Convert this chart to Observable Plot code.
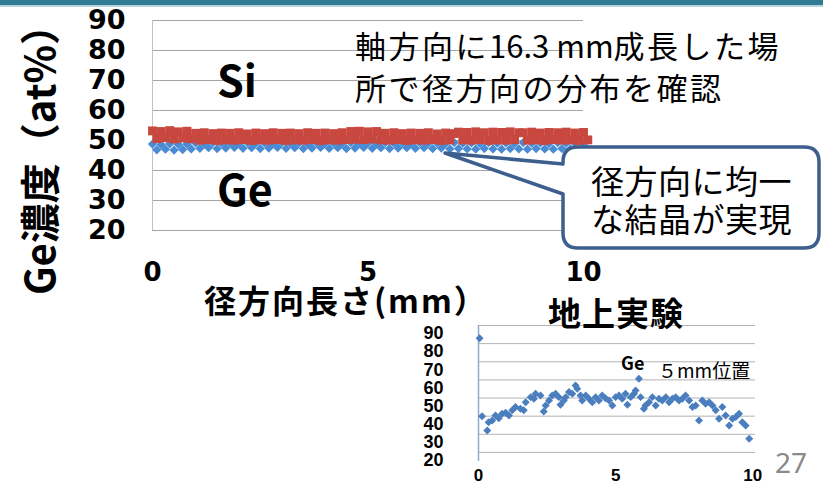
<!DOCTYPE html>
<html><head><meta charset="utf-8">
<script src="https://cdn.jsdelivr.net/npm/d3@7"></script>
<script src="https://cdn.jsdelivr.net/npm/@observablehq/plot@0.6"></script>
<style>
html,body{margin:0;padding:0;background:#fff;}
#root{position:relative;width:823px;height:486px;overflow:hidden;background:#fff;}
#root svg{position:absolute;left:0;top:0;}
.bar{position:absolute;left:0;top:0;width:823px;height:5px;background:#2f7b93;border-bottom:2px solid #b5d3dc;}
</style></head><body><div id="root"><div class="bar"></div></div>
<script>
// ---- main chart data (radial distribution, 16.3 mm axial position) ----
const radialPos = [0,0.1,0.2,0.3,0.4,0.5,0.6,0.7,0.8,0.9,1.0,1.1,1.2,1.3,1.4,1.5,1.6,1.7,1.8,1.9,2.0,2.1,2.2,2.3,2.4,2.5,2.6,2.7,2.8,2.9,3.0,3.1,3.2,3.3,3.4,3.5,3.6,3.7,3.8,3.9,4.0,4.1,4.2,4.3,4.4,4.5,4.6,4.7,4.8,4.9,5.0,5.1,5.2,5.3,5.4,5.5,5.6,5.7,5.8,5.9,6.0,6.1,6.2,6.3,6.4,6.5,6.6,6.7,6.8,6.9,7.0,7.1,7.2,7.3,7.4,7.5,7.6,7.7,7.8,7.9,8.0,8.1,8.2,8.3,8.4,8.5,8.6,8.7,8.8,8.9,9.0,9.1,9.2,9.3,9.4,9.5,9.6,9.7,9.8,9.9,10.0,10.1];
const siConc = [53.2,50.6,53.0,50.9,53.3,50.5,52.9,50.8,53.1,50.6,
52.4,50.1,52.6,50.3,52.3,50.0,52.5,50.2,52.4,50.1,52.6,50.3,52.2,50.0,52.5,50.2,52.3,50.1,52.6,50.3,52.4,50.0,52.5,50.2,52.3,50.1,52.6,50.3,52.4,50.0,52.5,50.2,52.3,50.1,52.6,50.3,
53.0,50.4,53.1,50.3,52.9,50.5,53.0,50.2,
52.4,50.1,52.6,50.3,52.3,50.0,52.5,50.2,52.4,50.1,52.6,50.3,52.2,50.0,52.5,50.2,52.3,
52.8,50.2,52.7,50.1,52.9,50.3,52.6,50.0,52.8,50.2,52.7,50.1,52.9,50.3,52.6,
52.6,50.1,52.8,50.2,52.5,50.0,52.7,50.3,52.6,50.1,52.8,50.2,52.5,50.0,52.7,50.2];
const geConc = [48.8,46.9,48.6,47.1,48.9,46.8,48.7,47.0,48.8,47.2,
49.2,47.4,49.0,47.6,49.3,47.3,49.1,47.5,49.2,47.7,
49.0,47.4,49.3,47.6,49.1,47.3,49.2,47.5,49.0,47.7,
49.3,47.4,49.1,47.6,49.2,47.3,49.0,47.5,49.3,47.7,
49.1,47.4,49.2,47.6,49.0,47.3,49.3,47.5,49.1,47.7,
49.2,47.4,49.0,47.6,49.3,47.3,49.1,47.5,49.2,47.6,
49.0,47.4,49.3,47.6,49.1,47.3,49.2,47.5,49.0,47.2,
49.3,47.3,49.1,47.2,49.2,47.1,49.0,47.3,49.3,47.2,
49.1,47.1,49.2,47.3,49.0,47.2,49.3,47.1,49.1,47.3,
49.2,47.2,49.0,47.1,49.3,47.3,49.1,47.2,49.2,47.1,
49.0,47.2];
const mainYTicks = [20,30,40,50,60,70,80,90];
const mainXTicks = [0,5,10];

// ---- inset chart data (ground experiment, 5 mm position) ----
const groundPos = [0.04,0.13,0.32,0.37,0.50,0.62,0.74,0.86,0.99,1.11,1.23,1.35,1.53,1.65,1.72,1.90,2.02,2.08,2.26,2.38,2.45,2.57,2.69,2.81,2.93,2.99,3.11,3.18,3.30,3.42,3.54,3.60,3.72,3.78,3.91,4.03,4.15,4.27,4.39,4.51,4.63,4.76,4.88,5.00,5.12,5.24,5.36,5.43,5.55,5.67,5.73,5.85,5.91,6.03,6.09,6.22,6.34,6.46,6.58,6.70,6.83,6.95,7.07,7.19,7.31,7.43,7.55,7.68,7.80,7.92,8.04,8.16,8.28,8.41,8.53,8.65,8.77,8.89,9.01,9.14,9.26,9.38,9.50,9.62,9.74,9.87];
const groundGe = [83.0,40.0,32.1,36.7,37.6,40.4,38.9,41.3,41.9,40.4,43.2,45.0,44.1,43.2,47.7,50.5,49.6,52.3,51.4,42.6,45.9,48.7,51.4,52.3,50.5,46.3,48.7,50.5,53.3,52.3,56.9,55.1,51.4,48.7,51.4,49.6,47.7,50.5,48.7,51.4,49.9,48.7,45.9,50.5,51.4,49.6,52.3,46.3,50.5,52.3,54.2,60.6,50.5,44.1,45.9,47.7,50.5,45.9,49.6,48.7,50.5,47.7,49.6,50.5,48.7,49.6,51.4,48.7,45.0,45.9,37.6,48.7,46.8,47.7,45.9,43.2,38.6,45.0,40.4,34.9,38.6,39.5,41.3,36.7,34.9,27.5];
const groundYTicks = [20,30,40,50,60,70,80,90];
const groundXTicks = [0,5,10];

const W = 823, H = 486;
const root = document.getElementById("root");
const wideBold = "'DejaVu Sans','Liberation Sans',sans-serif";
const lib = "'Liberation Sans','Arial',sans-serif";
const jp = "'Noto Sans CJK JP','Noto Sans',sans-serif";

const mainRows = radialPos.map((p, i) => ({pos: p, si: siConc[i], ge: geConc[i]}));
const groundRows = groundPos.map((p, i) => ({pos: p, ge: groundGe[i]}));

const mainChart = Plot.plot({
  width: W, height: H,
  marginLeft: 152, marginRight: 240, marginTop: 20, marginBottom: 256,
  x: {domain: [0, 10]},
  y: {domain: [20, 90]},
  style: {background: "transparent", overflow: "visible"},
  marks: [
    Plot.ruleY(mainYTicks, {stroke: "#a4a4a4", strokeWidth: 1}),
    Plot.ruleX([0], {y1: 20, y2: 90, stroke: "#c2c2c2", strokeWidth: 1}),
    Plot.dot(mainRows, {x: "pos", y: "ge", symbol: "diamond2", r: 4.2, fill: "#4a8bd4", stroke: "none"}),
    Plot.dot(mainRows, {x: "pos", y: "si", symbol: "square", r: 5, fill: "#c8473f", stroke: "none"}),
    Plot.axisY({ticks: mainYTicks, tickSize: 0, tickPadding: 27, fontSize: 27, fontWeight: "bold", fontFamily: wideBold, label: null, fill: "#000"}),
    Plot.axisX({ticks: mainXTicks, tickSize: 0, tickPadding: 32, fontSize: 26, fontWeight: "bold", fontFamily: wideBold, label: null, fill: "#000"})
  ]
});
root.appendChild(mainChart);

const groundChart = Plot.plot({
  width: W, height: H,
  marginLeft: 478, marginRight: 68, marginTop: 325, marginBottom: 25,
  x: {domain: [0, 10.1]},
  y: {domain: [15, 90]},
  style: {background: "transparent", overflow: "visible"},
  marks: [
    Plot.ruleY(groundYTicks, {stroke: "#b4b4b4", strokeWidth: 1}),
    Plot.ruleX([0], {y1: 15, y2: 90, stroke: "#8ea9c9", strokeWidth: 1.5}),
    Plot.dot(groundRows, {x: "pos", y: "ge", symbol: "diamond2", r: 3.6, fill: "#4a7ebf", stroke: "none"}),
    Plot.axisY({ticks: groundYTicks, tickSize: 0, tickPadding: 35, dy: 8, fontSize: 18, fontWeight: "bold", fontFamily: lib, label: null, fill: "#000"}),
    Plot.axisX({ticks: groundXTicks, tickSize: 0, tickPadding: 7, fontSize: 17, fontWeight: "bold", fontFamily: lib, label: null, fill: "#000"})
  ]
});
root.appendChild(groundChart);

// ---- overlay: titles, annotations, callout ----
const ov = d3.select(root).append("svg").attr("width", W).attr("height", H)
  .style("font-family", jp);

// y title
ov.append("text").attr("transform", "translate(55,150) rotate(-90)")
  .attr("text-anchor", "middle").attr("font-size", 40).attr("font-weight", "bold")
  .text("Ge濃度（at%）");
// x title
ov.append("text").attr("x", 204).attr("y", 313).attr("font-size", 32).attr("font-weight", "bold")
  .attr("letter-spacing", 2).text("径方向長さ(mm）");

// Si / Ge labels
ov.append("text").attr("x", 217).attr("y", 97).attr("font-size", 43).attr("font-weight", "bold").text("Si");
ov.append("text").attr("x", 217).attr("y", 206).attr("font-size", 43).attr("font-weight", "bold").text("Ge");

// top-right note
const t1 = ov.append("text").attr("x", 355).attr("y", 58).attr("font-size", 31);
t1.append("tspan").attr("letter-spacing", 2.5).text("軸方向に");
t1.append("tspan").attr("letter-spacing", 0).text("16.3 mm");
t1.append("tspan").attr("letter-spacing", 2.5).text("成長した場");
ov.append("text").attr("x", 355).attr("y", 100).attr("font-size", 31).attr("letter-spacing", 2.5)
  .text("所で径方向の分布を確認");

// callout
ov.append("path")
  .attr("d", "M578,147 H804 Q819,147 819,162 V233 Q819,248 804,248 H578 Q563,248 563,233 V194 L445,153 L563,164 V162 Q563,147 578,147 Z")
  .attr("fill", "#fff").attr("stroke", "#3d5f8e").attr("stroke-width", 3.5).attr("stroke-linejoin", "round");
ov.append("text").attr("x", 591).attr("y", 194).attr("font-size", 33).attr("letter-spacing", 0.5).text("径方向に均一");
ov.append("text").attr("x", 591).attr("y", 232).attr("font-size", 33).attr("letter-spacing", 0.5).text("な結晶が実現");

// inset title and labels
ov.append("text").attr("x", 548).attr("y", 326).attr("font-size", 33).attr("font-weight", "bold")
  .attr("letter-spacing", 1).text("地上実験");
ov.append("text").attr("x", 621).attr("y", 370).attr("font-size", 18).attr("font-weight", "bold").text("Ge");
ov.append("text").attr("x", 658).attr("y", 378).attr("font-size", 19).text("５mm位置");

// page number
ov.append("text").attr("x", 775).attr("y", 473).attr("font-size", 28).attr("fill", "#8a8a8a")
  .attr("font-family", "'Noto Sans','Open Sans',sans-serif").text("27");
</script></body></html>
